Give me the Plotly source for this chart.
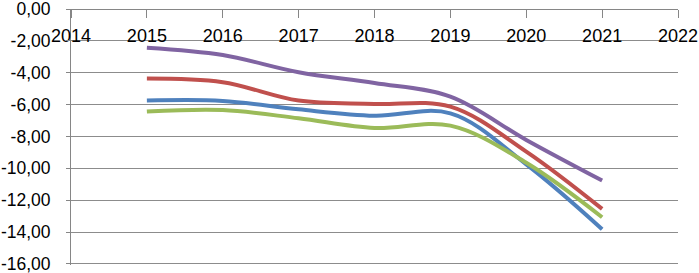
import plotly.graph_objects as go

years = [2015, 2016, 2017, 2018, 2019, 2020, 2021]
purple = [-2.43, -2.89, -3.97, -4.65, -5.50, -8.22, -10.77]
red = [-4.37, -4.60, -5.75, -5.96, -6.13, -8.95, -12.55]
blue = [-5.75, -5.77, -6.30, -6.70, -6.55, -9.75, -13.82]
green = [-6.44, -6.34, -6.86, -7.47, -7.32, -9.65, -13.07]

x_ticks = [2014, 2015, 2016, 2017, 2018, 2019, 2020, 2021, 2022]
y_ticks = [0, -2, -4, -6, -8, -10, -12, -14, -16]
y_tick_labels = ["0,00", "-2,00", "-4,00", "-6,00", "-8,00", "-10,00", "-12,00", "-14,00", "-16,00"]

series = [
    ("s1", blue, "#4F81BD"),
    ("s2", red, "#C0504D"),
    ("s3", green, "#9BBB59"),
    ("s4", purple, "#8064A2"),
]

fig = go.Figure()
for name, vals, col in series:
    fig.add_trace(go.Scatter(x=years, y=vals, mode="lines", name=name,
                             line=dict(color=col, width=4, shape="spline", smoothing=1)))

fig.update_layout(
    width=699, height=273,
    margin=dict(l=71, r=21, t=9, b=8, autoexpand=False),
    plot_bgcolor="white", paper_bgcolor="white",
    showlegend=False,
    font=dict(family="Liberation Sans", size=18, color="#000000"),
)
fig.update_xaxes(
    range=[2014, 2022], tickvals=x_ticks, ticktext=[str(v) for v in x_ticks],
    anchor="free", position=1, side="bottom",
    showline=True, linecolor="#868686", linewidth=1,
    ticks="outside", ticklen=8, tickcolor="#868686",
    showgrid=False, zeroline=False, automargin=False,
    ticklabeloverflow="allow", ticklabelstandoff=2,
)
fig.update_yaxes(
    range=[-16.07, 0], tickvals=y_ticks, ticktext=y_tick_labels,
    showline=True, linecolor="#868686", linewidth=1,
    ticks="outside", ticklen=4, tickcolor="#868686",
    showgrid=True, gridcolor="#8c8c8c", gridwidth=1.2, zeroline=False,
    automargin=False, tickfont=dict(size=17.5),
    ticklabeloverflow="allow", ticklabelstandoff=12,
)
fig.write_html(
    "out.html",
    config={"displayModeBar": False},
    post_script="document.body.style.margin='0';document.body.style.overflow='hidden';",
)
